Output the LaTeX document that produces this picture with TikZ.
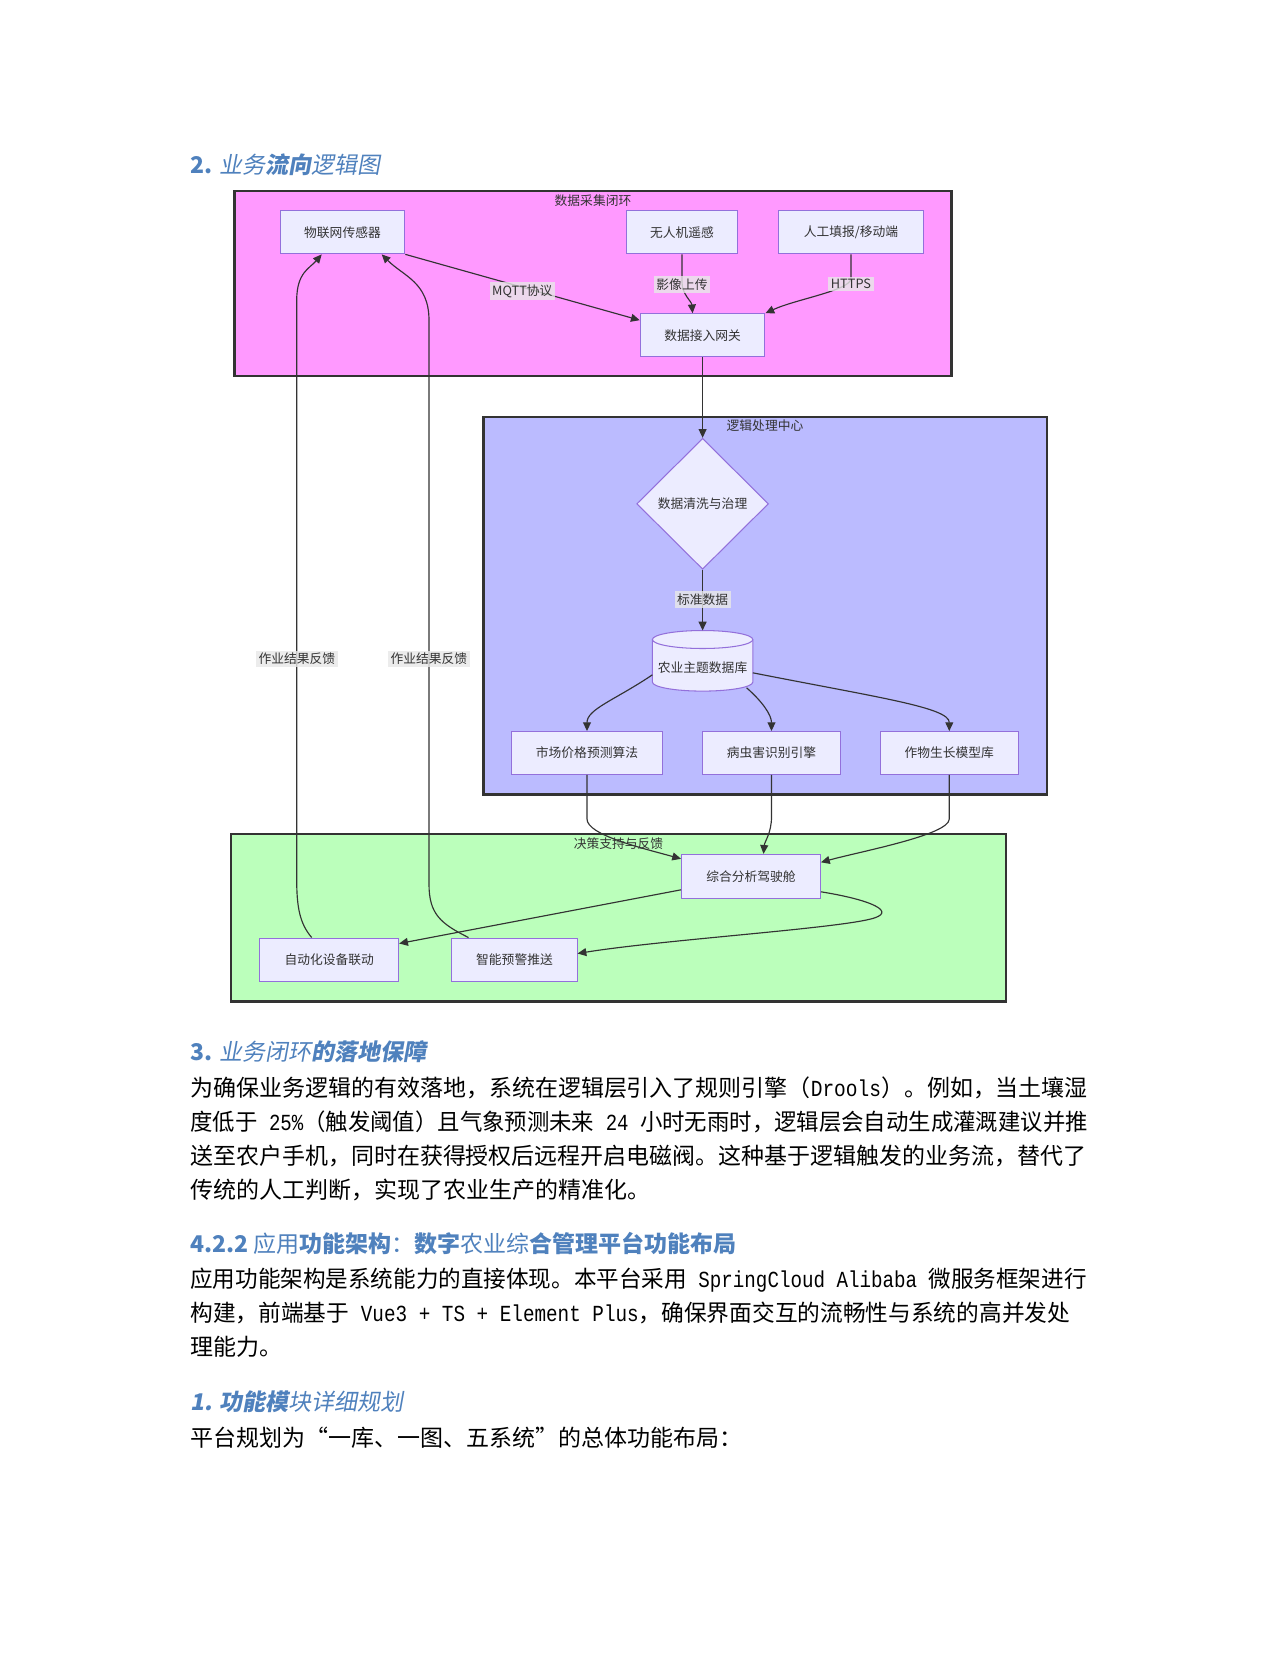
\documentclass[tikz,border=0pt]{standalone}
\usepackage{fontspec}
\usepackage{graphicx}
\usetikzlibrary{arrows.meta,shapes.geometric,calc}
\setmainfont{Noto Sans CJK SC}
\newfontfamily\hdit[FakeSlant=0.18]{Noto Sans CJK SC}
\newfontfamily\latmono[FakeStretch=0.85]{Liberation Mono}
\newcommand{\mylat}[1]{{\latmono #1}}
\newcommand{\jl}[2]{\resizebox{#1}{\height}{#2}}
\newcommand{\dfont}{\fontsize{6.1}{7.3}\selectfont}
\newcommand{\bfont}{\fontsize{11}{13}\selectfont}
\definecolor{hblue}{HTML}{4F81BD}
\definecolor{pinkfill}{HTML}{FF99FF}
\definecolor{bluefill}{HTML}{BBBBFF}
\definecolor{greenfill}{HTML}{BBFFBB}
\definecolor{nodefill}{HTML}{ECECFF}
\definecolor{nodeline}{HTML}{9370DB}
\definecolor{edgecol}{HTML}{333333}
\definecolor{lblfill}{HTML}{E8E8E8}
\begin{document}
\begin{tikzpicture}[x=0.478125pt,y=-0.478125pt,
  cluster/.style={draw=edgecol,line width=1pt},
  ctitle/.style={font=\dfont,text=edgecol,inner sep=0pt},
  fnode/.style={draw=nodeline,fill=nodefill,line width=0.5pt,inner sep=0pt,minimum height=20.5pt,font=\dfont,text=edgecol},
  dianode/.style={diamond,aspect=1,draw=nodeline,fill=nodefill,line width=0.5pt,inner sep=0pt,minimum width=63pt,minimum height=62.6pt,font=\dfont,text=edgecol},
  flow/.style={draw=edgecol,line width=0.55pt,-{Triangle[length=4.2pt,width=3.8pt]}},
  elabel/.style={fill=lblfill,fill opacity=0.8,text opacity=1,inner sep=1.2pt,font=\dfont,text=edgecol},
  bodyline/.style={anchor=base west,inner sep=0pt,font=\bfont},
  headline/.style={anchor=base west,inner sep=0pt,text=hblue,font=\bfont}]
\fill[white] (0,0) rectangle (1280,1656);
\useasboundingbox (0,0) rectangle (1280,1656);

% clusters
\draw[cluster,fill=pinkfill] (234.5,191.2) rectangle (951.5,376.4);
\draw[cluster,fill=bluefill] (483.5,417) rectangle (1047,794.5);
\draw[cluster,fill=greenfill] (231.3,834.2) rectangle (1006,1001.5);
\node[ctitle] (tA) at (593,200.5) {数据采集闭环};
\node[ctitle] (tB) at (765,426) {逻辑处理中心};
\node[ctitle] (tC) at (618.5,844) {决策支持与反馈};

% nodes
\node[fnode,minimum width=59.6pt] (iot) at (342.5,232.4) {物联网传感器};
\node[fnode,minimum width=53.1pt] (uav) at (682,232.4) {无人机遥感};
\node[fnode,minimum width=69.2pt] (man) at (851,232.4) {人工填报/移动端};
\node[fnode,minimum width=59.6pt] (gw) at (702.6,335.2) {数据接入网关};
\node[dianode] (cl) at (702.6,503.8) {数据清洗与治理};
\coordinate (dbc) at (702.6,660.8);
\draw[draw=nodeline,fill=nodefill,line width=0.5pt] ($(dbc)+(-50.2,-21.3)$) -- ($(dbc)+(-50.2,21.3)$) arc[start angle=180,end angle=360,x radius=24pt,y radius=4.3pt] -- ($(dbc)+(50.2,-21.3)$) arc[start angle=0,end angle=180,x radius=24pt,y radius=4.3pt] -- cycle;
\draw[draw=nodeline,line width=0.5pt] ($(dbc)+(-50.2,-21.3)$) arc[start angle=180,end angle=360,x radius=24pt,y radius=4.3pt];
\node[font=\dfont,text=edgecol,inner sep=0pt] (db) at (702.6,667.3) {农业主题数据库};
\node[fnode,minimum width=72.3pt] (mk) at (587,753) {市场价格预测算法};
\node[fnode,minimum width=66pt] (pe) at (771.5,753) {病虫害识别引擎};
\node[fnode,minimum width=66.2pt] (cr) at (949.3,753) {作物生长模型库};
\node[fnode,minimum width=66.4pt,minimum height=21pt] (ck) at (751,876.3) {综合分析驾驶舱};
\node[fnode,minimum width=66.4pt,minimum height=21pt] (au) at (329.2,960) {自动化设备联动};
\node[fnode,minimum width=59.8pt,minimum height=21pt] (al) at (514.5,960) {智能预警推送};

% edges
\draw[flow] (iot.south east) -- ($(gw.west)+(0,-15)$);
\draw[flow] (uav.south) -- ++(0,28) .. controls +(0,12) and +(-1,-12) .. ($(gw.north)+(-10,0)$);
\draw[flow] (man.south) -- ++(0,24) .. controls +(0,12) and +(30,-14) .. (gw.north east);
\draw[flow] (gw.south) -- (cl.north);
\draw[flow] (cl.south) -- ($(dbc)+(0,-30.3)$);
\draw[flow] ($(dbc)+(-50.2,14)$) .. controls +(-37,25) and +(0,-22) .. (mk.north);
\draw[flow] ($(dbc)+(44,27)$) .. controls +(16,14) and +(0,-16) .. (pe.north);
\draw[flow] ($(dbc)+(50.2,12)$) .. controls +(127,25) and +(0,-23.5) .. (cr.north);
\draw[flow] (mk.south) -- ++(0,44) .. controls +(0,16) and +(-40,-11) .. ($(ck.west)+(0,-17.5)$);
\draw[flow] (pe.south) -- ++(0,42) .. controls +(0,16) and +(1,-12) .. ($(ck.north)+(12.5,0)$);
\draw[flow] (cr.south) -- ++(0,44) .. controls +(0,16) and +(40,-11) .. ($(ck.east)+(0,-14)$);
\draw[flow] ($(ck.west)+(0,13.5)$) -- ($(au.east)+(0,-16.5)$);
\draw[flow] ($(ck.east)+(0,15.5)$) .. controls +(50,8) and +(28,-7) .. ($(ck.east)+(49.8,42.7)$) .. controls +(-40,10) and +(83.4,-13.5) .. ($(al.east)+(0,-6.5)$);
\draw[flow] ($(au.north)+(-17.5,0)$) .. controls +(-12,-14) and +(0,28) .. ($(au.north)+(-32.5,-58.5)$) -- ($(iot.south)+(-45.8,46)$) .. controls +(0,-28) and +(-12,14) .. ($(iot.south)+(-20.8,0)$);
\draw[flow] ($(al.north)+(-46,0)$) .. controls +(-28,-14) and +(0,30) .. ($(al.north)+(-85.5,-53.5)$) -- ($(iot.south)+(86.5,66)$) .. controls +(0,-38) and +(22,22) .. ($(iot.south)+(39.2,0)$);

% edge labels
\node[elabel] (lMQ) at (522.3,291) {MQTT协议};
\node[elabel] (lUV) at (682,284.5) {影像上传};
\node[elabel] (lHT) at (851,284) {HTTPS};
\node[elabel] (lSD) at (702.6,599.3) {标准数据};
\node[elabel] (lF1) at (296.8,659) {作业结果反馈};
\node[elabel] (lF2) at (428.8,659) {作业结果反馈};

% text
\node[headline] (h2) at (190,173.7) {\textbf{2.} {\hdit 业务\textbf{流向}逻辑图}};
\node[headline] (h3) at (190,1060.7) {\textbf{3.} {\hdit 业务闭环\textbf{的落地保障}}};
\node[bodyline] (p1a) at (190,1096.2) {\jl{429.1pt}{为确保业务逻辑的有效落地，系统在逻辑层引入了规则引擎（\mylat{Drools}）。例如，当土壤湿}};
\node[bodyline] (p1b) at (190,1130.2) {\jl{429.1pt}{度低于\mylat{ 25\%}（触发阈值）且气象预测未来\mylat{ 24 }小时无雨时，逻辑层会自动生成灌溉建议并推}};
\node[bodyline] (p1c) at (190,1164.2) {\jl{428.2pt}{送至农户手机，同时在获得授权后远程开启电磁阀。这种基于逻辑触发的业务流，替代了}};
\node[bodyline] (p1d) at (190,1198.2) {传统的人工判断，实现了农业生产的精准化。};
\node[headline] (h4) at (190,1252.7) {\textbf{4.2.2} 应用\textbf{功能架构}：\textbf{数字}农业综\textbf{合管理平台功能布局}};
\node[bodyline] (p2a) at (190,1287.2) {\jl{428.5pt}{应用功能架构是系统能力的直接体现。本平台采用\mylat{ SpringCloud Alibaba }微服务框架进行}};
\node[bodyline] (p2b) at (190,1321.7) {\jl{420.6pt}{构建，前端基于\mylat{ Vue3 + TS + Element Plus}，确保界面交互的流畅性与系统的高并发处}};
\node[bodyline] (p2c) at (190,1355.7) {理能力。};
\node[headline] (h1) at (190,1410.2) {{\hdit\textbf{1. 功能模}块详细规划}};
\node[bodyline] (p3) at (190,1446.2) {平台规划为“一库、一图、五系统”的总体功能布局：};
\end{tikzpicture}
\end{document}
